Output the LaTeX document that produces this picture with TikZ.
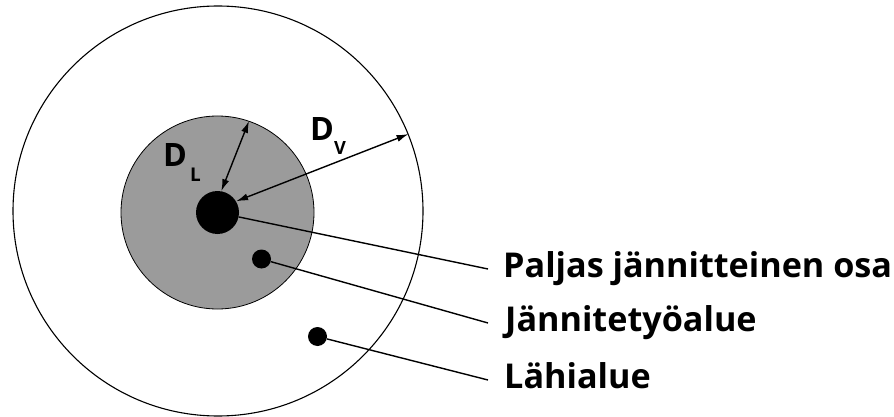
\documentclass[tikz,border=0pt]{standalone}
\usepackage{fontspec}
\setmainfont{Open Sans}
\usetikzlibrary{arrows.meta}
\definecolor{zonegray}{RGB}{155,155,155}
\newlength\mylblw
\newlength\mydh
\tikzset{
  zone/.style={circle, draw=black, line width=1.1pt, inner sep=0pt},
  blob/.style={circle, fill=black, inner sep=0pt},
  leader/.style={line width=1.4pt},
  dim/.style={line width=1.4pt, {Latex[length=12pt,width=7pt]}-{Latex[length=12pt,width=7pt]}},
  lbl/.style={anchor=base west, inner sep=0pt, font=\fontsize{\mylblsize}{\mylblsize}\selectfont\bfseries},
  dlbl/.style={anchor=base west, inner sep=0pt, font=\bfseries},
}
\begin{document}
\settowidth\mylblw{\fontsize{30}{30}\selectfont\bfseries Paljas jännitteinen osa}%
\settoheight\mydh{\fontsize{30}{30}\selectfont\bfseries D}%
\pgfmathsetmacro\mylblsize{30*389/\mylblw}%
\pgfmathsetmacro\mydsize{30*23/\mydh}%
\pgfmathsetmacro\mysubL{30*13.5/\mydh}%
\pgfmathsetmacro\mysubV{30*13/\mydh}%
\begin{tikzpicture}[x=1pt,y=-1pt]
\useasboundingbox[fill=white] (0,0) rectangle (894,417);
\node[zone, minimum size=410pt] (outer) at (218,211) {};
\node[zone, fill=zonegray, line width=0.8pt, minimum size=193pt] (work) at (217.5,212.5) {};
\node[blob, minimum size=43pt] (live) at (217.5,212.5) {};
\node[blob, minimum size=19pt] (p2) at (261.5,259) {};
\node[blob, minimum size=19pt] (p3) at (317.5,336.5) {};
\draw[dim] (live.80) -- (work.71);
\draw[dim] (live.31) -- (outer.22);
\node[dlbl] (dl) at (163,166) {\fontsize{\mydsize}{\mydsize}\selectfont D\hspace{3pt}\raisebox{-16pt}{\fontsize{\mysubL}{\mysubL}\selectfont L}};
\node[dlbl] (dv) at (310,140) {\fontsize{\mydsize}{\mydsize}\selectfont D\hspace{0pt}\raisebox{-14pt}{\fontsize{\mysubV}{\mysubV}\selectfont V}};
\coordinate (c1) at (488,269);
\coordinate (c2) at (488,323);
\coordinate (c3) at (488,380);
\draw[leader] (live) -- (c1);
\draw[leader] (p2) -- (c2);
\draw[leader] (p3) -- (c3);
\node[lbl] (t1) at (503,277) {Paljas jännitteinen osa};
\node[lbl] (t2) at (505,331) {Jännitetyöalue};
\node[lbl] (t3) at (504,388) {Lähialue};
\end{tikzpicture}
\end{document}
